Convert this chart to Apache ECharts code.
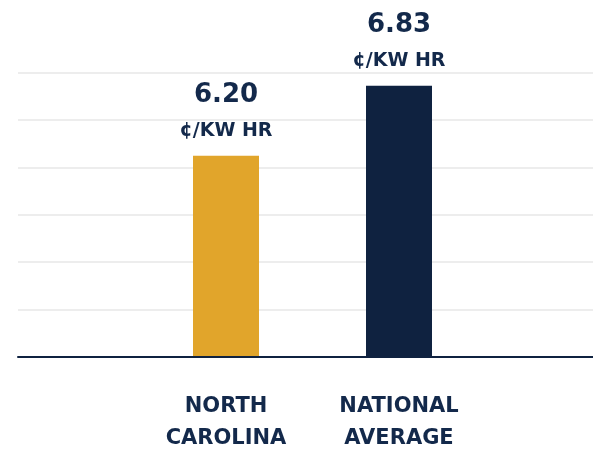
<!DOCTYPE html>
<html><head><meta charset="utf-8">
<script src="https://cdn.jsdelivr.net/npm/echarts@6/dist/echarts.min.js"></script>
<style>html,body{margin:0;padding:0;background:#fff}#c{width:593px;height:449px}</style>
</head><body><div id="c"></div>
<script>
const categories = ['NORTH\nCAROLINA', 'NATIONAL\nAVERAGE'];
const values = [6.20, 6.83];
const barColors = ['#e1a52b', '#0f2240'];
const unitLabel = '¢/KW HR';

const NAVY = '#13294b';
const FONT = 'DejaVu Sans';
const chart = echarts.init(document.getElementById('c'));
chart.setOption({
  animation: false,
  grid: [
    {left: 18, right: 0, top: 72.5, bottom: 92, outerBoundsMode: 'none', containLabel: false},
    {left: 139.5, width: 346, top: 72.5, bottom: 92, outerBoundsMode: 'none', containLabel: false}
  ],
  xAxis: [
    {gridIndex: 0, type: 'category', data: [''], axisLine: {show: true, lineStyle: {color: '#0f2240', width: 2}}, axisTick: {show: false}, axisLabel: {show: false}, z: 10},
    {gridIndex: 1, type: 'category', data: categories, axisLine: {show: false}, axisTick: {show: false},
     axisLabel: {margin: 34, color: NAVY, fontFamily: FONT, fontWeight: 'bold', fontSize: 21, lineHeight: 32, align: 'center'}}
  ],
  yAxis: [
    {gridIndex: 0, type: 'value', min: 0, max: 6, interval: 1, axisLine: {show: false}, axisTick: {show: false}, axisLabel: {show: false},
     splitLine: {show: true, lineStyle: {color: '#ededed', width: 2}}},
    {gridIndex: 1, type: 'value', min: 4.39, max: 6.95, axisLine: {show: false}, axisTick: {show: false}, axisLabel: {show: false}, splitLine: {show: false}}
  ],
  series: [{
    type: 'bar', xAxisIndex: 1, yAxisIndex: 1, barWidth: 66,
    data: values.map((v, i) => ({value: v, itemStyle: {color: barColors[i]}})),
    label: {
      show: true, position: 'top', distance: 10.5,
      formatter: p => '{v|' + p.value.toFixed(2) + '}\n{u|' + unitLabel + '}',
      rich: {
        v: {color: NAVY, fontFamily: FONT, fontWeight: 'bold', fontSize: 26, lineHeight: 45},
        u: {color: NAVY, fontFamily: FONT, fontWeight: 'bold', fontSize: 19, lineHeight: 28}
      }
    }
  }]
});
</script></body></html>
